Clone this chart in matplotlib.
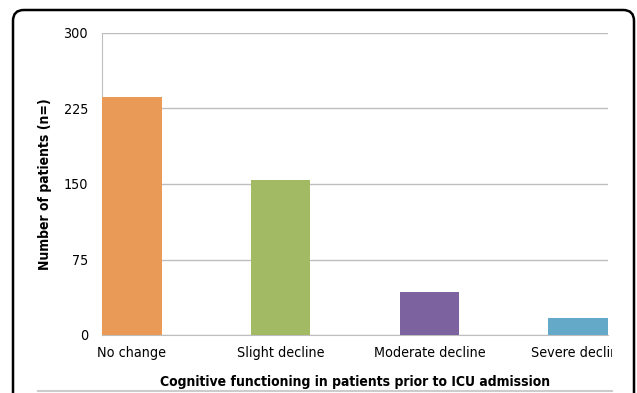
import matplotlib
matplotlib.use("Agg")
import matplotlib.pyplot as plt
from matplotlib.patches import FancyBboxPatch
from matplotlib.transforms import Bbox, TransformedBbox
from matplotlib.lines import Line2D

categories = ["No change", "Slight decline", "Moderate decline", "Severe decline"]
patients = [236, 154, 43, 17]
bar_colors = ["#E99A56", "#A2BA63", "#7D62A0", "#64A9C8"]
y_ticks = [0, 75, 150, 225, 300]

W, H = 637, 393
plt.rcParams["font.family"] = ["DejaVu Sans"]
plt.rcParams["font.stretch"] = "condensed"
fig = plt.figure(figsize=(W / 100, H / 100), dpi=100)

ax = fig.add_axes([102 / W, 1 - 335 / H, (608 - 102) / W, (335 - 33) / H])
x = range(len(categories))
ax.bar(x, patients, width=0.4, color=bar_colors, zorder=3)
ax.set_xlim(-0.2, 3.2)
ax.set_ylim(0, 300)
ax.set_yticks(y_ticks)
ax.set_yticklabels([str(v) for v in y_ticks], fontsize=10.3)
ax.set_xticks(list(x))
ax.set_xticklabels(categories, fontsize=10.3)
ax.tick_params(axis="both", length=0)
ax.tick_params(axis="y", pad=10)
ax.tick_params(axis="x", pad=8)
ax.grid(axis="y", color="#BEBEBE", linewidth=1, zorder=0)
for side in ("top", "right"):
    ax.spines[side].set_visible(False)
ax.spines["left"].set_color("#BEBEBE")
ax.spines["bottom"].set_color("#BEBEBE")

# clip the category labels at the chart's right edge
clip = TransformedBbox(Bbox([[0, 0], [612 / W, 1]]), fig.transFigure)
for lbl in ax.get_xticklabels():
    lbl.set_clip_on(True)
    lbl.set_clip_box(clip)

ax.set_ylabel("Number of patients (n=)", fontsize=10, fontweight="bold", labelpad=8)
ax.set_xlabel("Cognitive functioning in patients prior to ICU admission",
              fontsize=10, fontweight="bold", labelpad=11)

# rounded frame around the chart
frame = FancyBboxPatch((13 / W, -0.2), (634 - 13) / W, (H - 10) / H + 0.2,
                       boxstyle="round,pad=0,rounding_size=0.017",
                       transform=fig.transFigure, fill=False,
                       edgecolor="black", linewidth=1.8,
                       mutation_aspect=W / H)
fig.add_artist(frame)
fig.add_artist(Line2D([38 / W, 612 / W], [1 - 391 / H] * 2,
                      transform=fig.transFigure, color="#CCCCCC", linewidth=1.5))

fig.savefig("out.png", dpi=100)
